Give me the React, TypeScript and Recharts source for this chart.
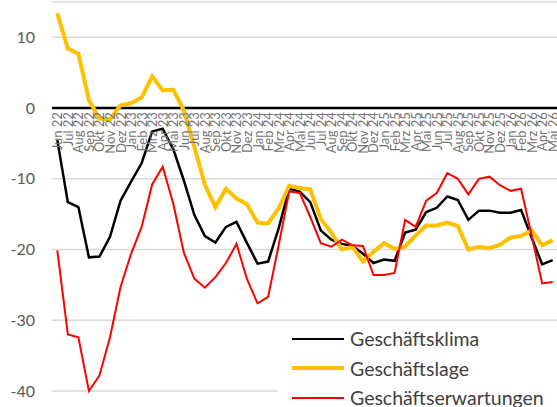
import { LineChart, Line, XAxis, YAxis, CartesianGrid, ReferenceLine, Legend } from 'recharts'

const months = [
  'Jun 22', 'Jul 22', 'Aug 22', 'Sep 22', 'Okt 22', 'Nov 22', 'Dez 22',
  'Jan 23', 'Feb 23', 'Mrz 23', 'Apr 23', 'Mai 23', 'Jun 23', 'Jul 23', 'Aug 23', 'Sep 23', 'Okt 23', 'Nov 23', 'Dez 23',
  'Jan 24', 'Feb 24', 'Mrz 24', 'Apr 24', 'Mai 24', 'Jun 24', 'Jul 24', 'Aug 24', 'Sep 24', 'Okt 24', 'Nov 24', 'Dez 24',
  'Jan 25', 'Feb 25', 'Mrz 25', 'Apr 25', 'Mai 25', 'Jun 25', 'Jul 25', 'Aug 25', 'Sep 25', 'Okt 25', 'Nov 25', 'Dez 25',
  'Jan 26', 'Feb 26', 'Mrz 26', 'Apr 26', 'Mai 26'
]

const klima = [
  -4.5, -13.3, -14.0, -21.1, -21.0, -18.2, -13.1,
  -10.4, -7.8, -3.3, -2.9, -5.8, -10.2, -15.1, -18.1, -19.0, -16.8, -16.1, -19.1,
  -22.0, -21.7, -17.0, -11.4, -11.8, -13.3, -17.3, -18.6, -19.2, -19.5, -20.6, -21.9,
  -21.4, -21.6, -17.6, -17.2, -14.7, -14.1, -12.5, -13.0, -15.8, -14.5, -14.5, -14.8,
  -14.8, -14.4, -18.3, -22.1, -21.5
]

const lage = [
  13.4, 8.4, 7.7, 1.1, -1.5, -1.6, 0.4,
  0.7, 1.5, 4.5, 2.5, 2.6, -0.3, -5.5, -10.8, -14.0, -11.4, -12.8, -13.6,
  -16.2, -16.3, -14.2, -11.0, -11.3, -11.5, -15.7, -17.6, -20.0, -19.6, -21.7, -20.3,
  -19.1, -19.9, -19.6, -18.0, -16.6, -16.6, -16.2, -16.7, -20.0, -19.6, -19.8, -19.3,
  -18.3, -18.1, -17.3, -19.4, -18.7
]

const erwartungen = [
  -20.1, -32.0, -32.4, -40.0, -37.8, -32.4, -25.3,
  -20.6, -16.8, -10.8, -8.3, -13.5, -20.4, -24.1, -25.4, -23.9, -21.9, -19.2, -24.2,
  -27.6, -26.7, -19.4, -11.8, -12.0, -15.4, -19.1, -19.6, -18.6, -19.4, -19.5, -23.6,
  -23.6, -23.3, -15.8, -16.8, -13.1, -12.0, -9.2, -10.0, -12.2, -10.0, -9.7, -10.9,
  -11.7, -11.4, -18.0, -24.8, -24.6
]

const yTicks = [-40, -30, -20, -10, 0, 10]
const Y_MIN = -40
const Y_MAX = 15

const series = [
  { key: 'klima', name: 'Geschäftsklima', color: '#000000', width: 2.5 },
  { key: 'lage', name: 'Geschäftslage', color: '#FFC000', width: 4 },
  { key: 'erwartungen', name: 'Geschäftserwartungen', color: '#FF0000', width: 2 }
]

const data = months.map((m, i) => ({
  month: m,
  klima: klima[i],
  lage: lage[i],
  erwartungen: erwartungen[i]
}))

const WIDTH = 558
const HEIGHT = 407
const TOP = 2
const X_AXIS_H = 16
const FONT = 'Lato, "Open Sans", sans-serif'

// month labels sit just under the zero line, not at the bottom
const ZERO_Y = TOP + ((HEIGHT - TOP - X_AXIS_H) * Y_MAX) / (Y_MAX - Y_MIN)

function MonthTick(props: any) {
  const { x, payload } = props
  const y = ZERO_Y + 4
  return (
    <text
      x={x}
      y={y}
      transform={`rotate(-90 ${x} ${y})`}
      textAnchor="end"
      dominantBaseline="central"
      fontSize={13}
      fontFamily={FONT}
      fill="#737373"
    >
      {payload.value}
    </text>
  )
}

function LegendBox() {
  return (
    <div style={{ fontFamily: FONT, fontSize: 19.5, color: '#404040', paddingTop: 2 }}>
      {series.map((s) => (
        <div key={s.key} style={{ display: 'flex', alignItems: 'center', height: 29.5 }}>
          <div style={{ width: 52, height: s.width, background: s.color, marginLeft: 14, marginRight: 6 }} />
          <span>{s.name}</span>
        </div>
      ))}
    </div>
  )
}

export default function App() {
  return (
    <div style={{ position: 'absolute', left: 0, top: 0, width: 557, height: HEIGHT, overflow: 'hidden', background: '#fff' }}>
      <LineChart width={WIDTH} height={HEIGHT} data={data} margin={{ top: TOP, right: 0, bottom: 0, left: 0 }}>
        <CartesianGrid vertical={false} stroke="#d9d9d9" strokeWidth={1.5} />
        <XAxis
          dataKey="month"
          interval={0}
          height={X_AXIS_H}
          axisLine={false}
          tickLine={false}
          padding={{ left: 5.3, right: 5.3 }}
          tick={<MonthTick />}
        />
        <YAxis
          width={52}
          domain={[Y_MIN, Y_MAX]}
          ticks={yTicks}
          axisLine={false}
          tickLine={false}
          tickSize={0}
          tickMargin={17}
          tick={{ fontSize: 16, fontFamily: FONT, fill: '#595959' }}
        />
        <ReferenceLine y={0} stroke="#000000" strokeWidth={2.5} />
        {series.map((s) => (
          <Line
            key={s.key}
            type="linear"
            dataKey={s.key}
            name={s.name}
            stroke={s.color}
            strokeWidth={s.width}
            dot={false}
            activeDot={false}
            isAnimationActive={false}
          />
        ))}
        <Legend
          layout="horizontal"
          verticalAlign="middle"
          align="center"
          wrapperStyle={{ left: 278, top: 322, width: 280, height: 85, background: '#fff' }}
          content={<LegendBox />}
        />
      </LineChart>
    </div>
  )
}
